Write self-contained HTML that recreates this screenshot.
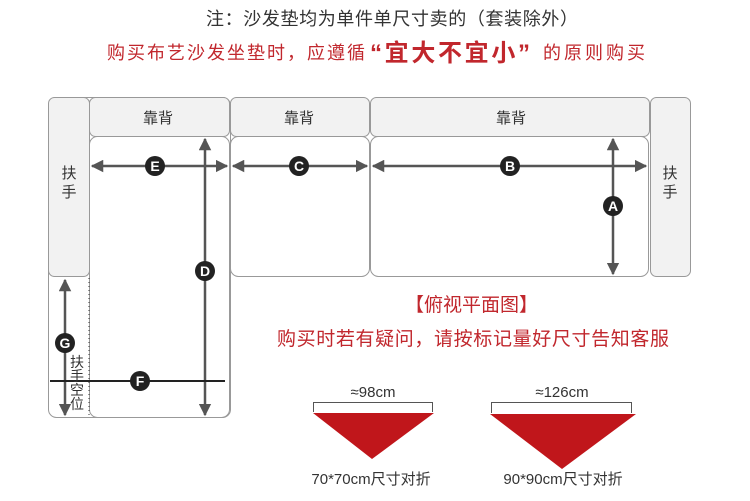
<!DOCTYPE html>
<html><head><meta charset="utf-8"><style>
html,body{margin:0;padding:0;background:#fff;}
svg{display:block;}
text{font-family:"Liberation Sans","Noto Sans CJK SC",sans-serif;}
</style></head><body>
<svg width="750" height="501" viewBox="0 0 750 501" xmlns="http://www.w3.org/2000/svg">
<defs>
<marker id="ar" viewBox="0 0 10 10" refX="9" refY="5" markerWidth="5" markerHeight="5" orient="auto-start-reverse"><path d="M0,0 L10,5 L0,10 z" fill="#555"/></marker>
</defs>
<text x="206" y="25" font-size="18" fill="#333" textLength="372" lengthAdjust="spacing">注：沙发垫均为单件单尺寸卖的（套装除外）</text>
<text x="107" y="59" font-size="18" fill="#c1272d" textLength="258" lengthAdjust="spacing">购买布艺沙发坐垫时，应遵循</text>
<text x="370" y="61" font-size="24" font-weight="bold" fill="#c1272d" textLength="160" lengthAdjust="spacing">“宜大不宜小”</text>
<text x="543" y="59" font-size="18" fill="#c1272d" textLength="102" lengthAdjust="spacing">的原则购买</text>

<g stroke="#999" stroke-width="1" fill="#fff">
<rect x="48.5" y="97.5" width="182" height="320" rx="8"/>
<rect x="89.5" y="136.5" width="140" height="281" rx="8"/>
<rect x="230.5" y="136.5" width="139" height="140" rx="8"/>
<rect x="370.5" y="136.5" width="278" height="140" rx="8"/>
<rect x="48.5" y="97.5" width="41" height="179" rx="6" fill="#f2f2f2"/>
<rect x="89.5" y="97.5" width="140" height="39" rx="6" fill="#f2f2f2"/>
<rect x="230.5" y="97.5" width="139" height="39" rx="6" fill="#f2f2f2"/>
<rect x="370.5" y="97.5" width="279" height="39" rx="6" fill="#f2f2f2"/>
<rect x="650.5" y="97.5" width="40" height="179" rx="6" fill="#f2f2f2"/>
</g>
<g font-size="15" fill="#333" text-anchor="middle">
<text x="158" y="123">靠背</text><text x="299" y="123">靠背</text><text x="511" y="123">靠背</text>
<text x="69" y="178">扶</text><text x="69" y="197">手</text>
<text x="670" y="178">扶</text><text x="670" y="197">手</text>
</g>
<line x1="89" y1="278" x2="89" y2="417" stroke="#333" stroke-dasharray="1,3"/>
<g stroke="#555" stroke-width="2.5">
<line x1="92" y1="166" x2="227" y2="166" marker-start="url(#ar)" marker-end="url(#ar)"/>
<line x1="233" y1="166" x2="367" y2="166" marker-start="url(#ar)" marker-end="url(#ar)"/>
<line x1="373" y1="166" x2="646" y2="166" marker-start="url(#ar)" marker-end="url(#ar)"/>
<line x1="613" y1="139" x2="613" y2="274" marker-start="url(#ar)" marker-end="url(#ar)"/>
<line x1="205" y1="139" x2="205" y2="415" marker-start="url(#ar)" marker-end="url(#ar)"/>
<line x1="65" y1="280" x2="65" y2="415" marker-start="url(#ar)" marker-end="url(#ar)"/>
</g>
<line x1="50" y1="381" x2="225" y2="381" stroke="#222" stroke-width="2"/>
<g fill="#222">
<circle cx="155" cy="166" r="10"/><circle cx="299" cy="166" r="10"/><circle cx="510" cy="166" r="10"/>
<circle cx="613" cy="206" r="10"/><circle cx="205" cy="271" r="10"/><circle cx="65" cy="343" r="10"/><circle cx="140" cy="381" r="10"/>
</g>
<g fill="#fff" font-size="14" font-weight="bold" text-anchor="middle">
<text x="155" y="171">E</text><text x="299" y="171">C</text><text x="510" y="171">B</text>
<text x="613" y="211">A</text><text x="205" y="276">D</text><text x="65" y="348">G</text><text x="140" y="386">F</text>
</g>
<g font-size="14" fill="#333" text-anchor="middle">
<text x="77" y="367">扶</text><text x="77" y="381">手</text><text x="77" y="395">空</text><text x="77" y="409">位</text>
</g>
<text x="405" y="311" font-size="19" fill="#c1272d" textLength="133" lengthAdjust="spacing">【俯视平面图】</text>
<text x="277" y="345" font-size="19" fill="#c1272d" textLength="392" lengthAdjust="spacing">购买时若有疑问，请按标记量好尺寸告知客服</text>

<text x="373" y="397" font-size="15" fill="#333" text-anchor="middle">≈98cm</text>
<path d="M313.5,412 V402.5 H432.5 V412" fill="none" stroke="#555"/>
<polygon points="313,413 434,413 372,459" fill="#c0161b"/>
<text x="371" y="484" font-size="15" fill="#333" text-anchor="middle">70*70cm尺寸对折</text>

<text x="562" y="397" font-size="15" fill="#333" text-anchor="middle">≈126cm</text>
<path d="M491.5,413 V402.5 H631.5 V413" fill="none" stroke="#555"/>
<polygon points="490,414 636,414 562,469" fill="#c0161b"/>
<text x="563" y="484" font-size="15" fill="#333" text-anchor="middle">90*90cm尺寸对折</text>
</svg>
</body></html>
